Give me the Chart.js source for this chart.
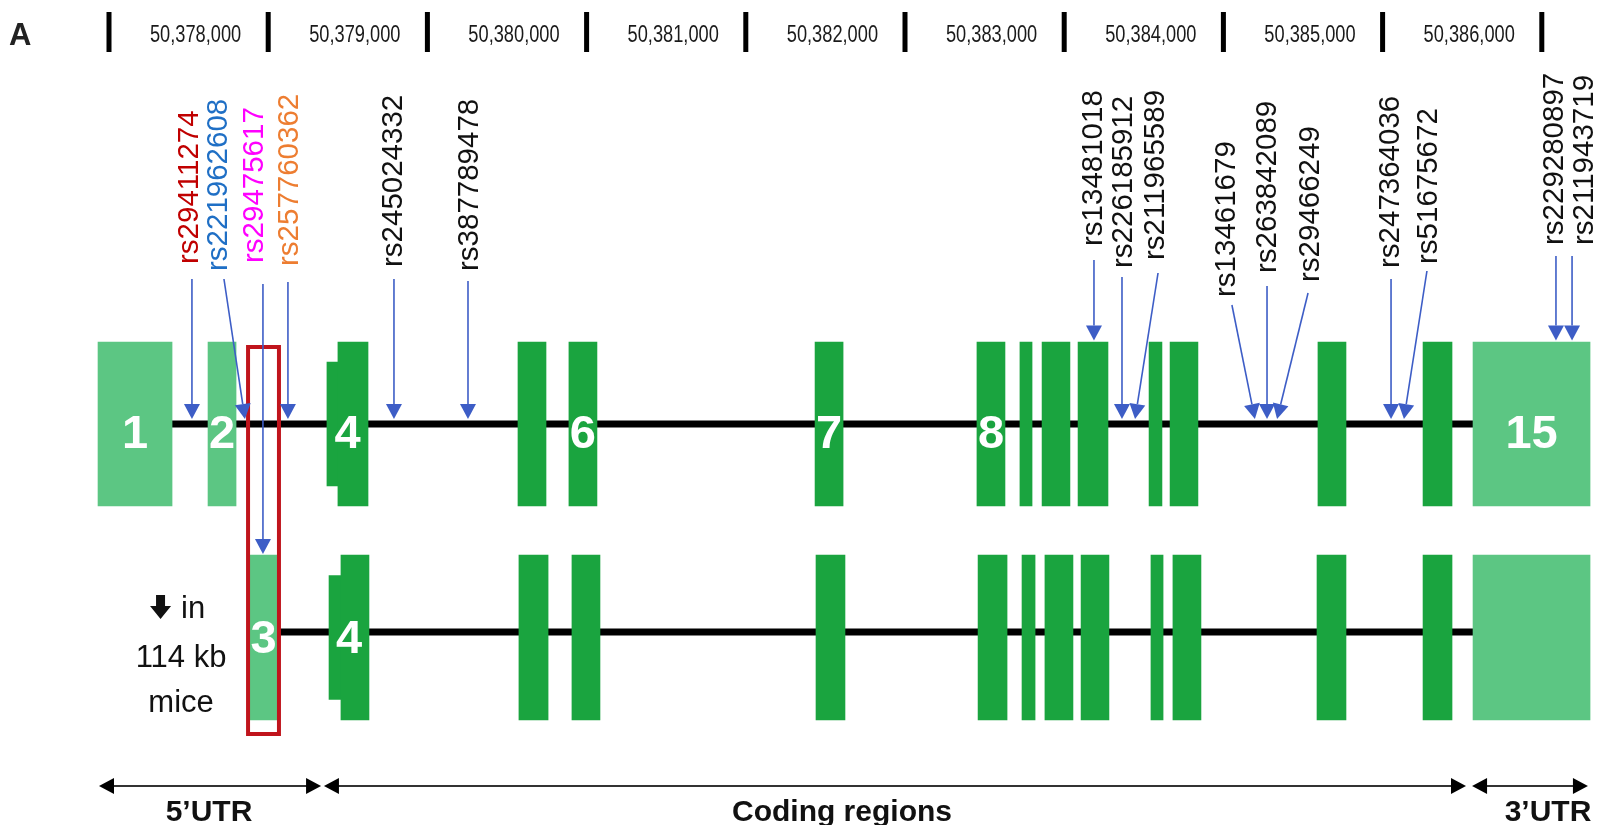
<!DOCTYPE html>
<html>
<head>
<meta charset="utf-8">
<script src="https://cdn.jsdelivr.net/npm/chart.js@4.4.1/dist/chart.umd.min.js"></script>
<style>
  html, body { margin: 0; padding: 0; background: #ffffff; }
  #wrap { width: 1601px; height: 825px; position: relative; }
</style>
</head>
<body>
<div id="wrap"><canvas id="c"></canvas></div>
<script>
// ======================= DATA =======================
// Genomic ruler: labelled 1-kb blocks, separated by tick bars
const axisTickValues = [50378000, 50379000, 50380000, 50381000, 50382000, 50383000, 50384000, 50385000, 50386000];
const axisTickLabels = ['50,378,000', '50,379,000', '50,380,000', '50,381,000', '50,382,000', '50,383,000', '50,384,000', '50,385,000', '50,386,000'];
const axisBarValues = [50377500, 50378500, 50379500, 50380500, 50381500, 50382500, 50383500, 50384500, 50385500, 50386500];

// Transcript 1 (upper row) exons [start, end]
const tx1Exons = [
  [50377431, 50377896], [50378122, 50378298], [50378938, 50379127], [50380069, 50380245],
  [50380389, 50380565], [50381935, 50382111], [50382952, 50383128], [50383222, 50383298],
  [50383361, 50383536], [50383587, 50383775], [50384033, 50384114], [50384165, 50384340],
  [50385094, 50385270], [50385754, 50385936], [50386068, 50386803]
];
const tx1IsUtr = [1, 1, 0, 0, 0, 0, 0, 0, 0, 0, 0, 0, 0, 0, 1];
const tx1Numbers = ['1', '2', '4', '', '6', '7', '8', '', '', '', '', '', '', '', '15'];
const tx1Exon4Ext = [50378869, 50378938];

// Transcript 2 (lower row, 114 kb mice) exons [start, end]
const tx2Exons = [
  [50378386, 50378555], [50378957, 50379133], [50380075, 50380258], [50380408, 50380584],
  [50381941, 50382123], [50382959, 50383141], [50383235, 50383317], [50383379, 50383555],
  [50383606, 50383781], [50384045, 50384121], [50384183, 50384359], [50385088, 50385270],
  [50385754, 50385936], [50386068, 50386803]
];
const tx2IsUtr = [1, 0, 0, 0, 0, 0, 0, 0, 0, 0, 0, 0, 0, 1];
const tx2Numbers = ['3', '4', '', '', '', '', '', '', '', '', '', '', '', ''];
const tx2Exon4Ext = [50378882, 50378957];

// SNPs
const snpIds = ['rs29411274', 'rs221962608', 'rs29475617', 'rs257760362', 'rs245024332', 'rs387789478',
  'rs13481018', 'rs226185912', 'rs211965589', 'rs13461679', 'rs263842089', 'rs29466249',
  'rs247364036', 'rs51675672', 'rs229280897', 'rs211943719'];
const snpPos = [50378021, 50378354, 50378467, 50378624, 50379290, 50379755,
  50383687, 50383863, 50383945, 50384698, 50384774, 50384837,
  50385553, 50385634, 50386589, 50386690];
const snpTarget = ['intron', 'intron', 'tx2exon', 'intron', 'intron', 'intron',
  'exon', 'intron', 'intron', 'intron', 'intron', 'intron',
  'intron', 'intron', 'exon', 'exon'];
const snpColors = ['#C00000', '#1F6FC5', '#FF00FF', '#ED7D31', '#111111', '#111111',
  '#111111', '#111111', '#111111', '#111111', '#111111', '#111111',
  '#111111', '#111111', '#111111', '#111111'];

// Gene regions
const regionNames = ['5\u2019UTR', 'Coding regions', '3\u2019UTR'];
const regionStart = [50377437, 50378850, 50386062];
const regionEnd = [50378832, 50386024, 50386790];

// ======================= LAYOUT (pixels, styling only) =======================
const LAYOUT = {
  exonH: 164, extH: 124, backboneW: 7,
  backboneDy: [0, -5.5],          // backbone offset from exon centre, per row
  numberDy: [24, 15.5],           // exon-number baseline offset from exon centre
  snpLabelDx: [-4, -28, -10, 0, -2, 0, -2, 0, 18, -30, -2, 31, -3, 23, -3, 10],
  snpLineDx: [0, -21, 0, 0, 0, 0, 0, 0, 23, -23, 0, 31, 0, 23, 0, 0],
  snpLineRise: [145, 145, 140, 142, 145, 143, 164, 147, 151, 119, 138, 131, 145, 153, 168, 168],
  snpLabelRise: [160, 153, 161, 158, 157, 153, 178, 156, 164, 127, 151, 142, 156, 160, 179, 179],
  regionLabelDx: [-1, -53, 18]
};

const LIGHT = '#5CC683';
const DARK = '#1AA43F';
const ARROW = '#3D5DC6';
const FONT = "'Liberation Sans', Arial, Helvetica, sans-serif";

// ======================= BUILD DATASETS =======================
function bars(exons, isUtr, row, wantUtr) {
  const out = [];
  exons.forEach((e, i) => { if (!!isUtr[i] === wantUtr) out.push({ x: [e[0], e[1]], y: row }); });
  return out;
}

const datasets = [
  { label: 'UTR exons tx1', data: bars(tx1Exons, tx1IsUtr, 1, true), backgroundColor: LIGHT, barThickness: LAYOUT.exonH },
  { label: 'coding exons tx1', data: bars(tx1Exons, tx1IsUtr, 1, false), backgroundColor: DARK, barThickness: LAYOUT.exonH },
  { label: 'UTR exons tx2', data: bars(tx2Exons, tx2IsUtr, 2, true), backgroundColor: LIGHT, barThickness: LAYOUT.exonH + 1 },
  { label: 'coding exons tx2', data: bars(tx2Exons, tx2IsUtr, 2, false), backgroundColor: DARK, barThickness: LAYOUT.exonH + 1 },
  { label: 'exon 4 extension', data: [{ x: tx1Exon4Ext, y: 1 }, { x: tx2Exon4Ext, y: 2 }], backgroundColor: DARK, barThickness: LAYOUT.extH }
].map(d => Object.assign(d, { borderWidth: 0, grouped: false, borderSkipped: false }));

// ======================= DRAWING PLUGIN =======================
function arrowHead(ctx, x0, y0, x1, y1, len, half) {
  const dx = x1 - x0, dy = y1 - y0, L = Math.hypot(dx, dy);
  const ux = dx / L, uy = dy / L;
  const bx = x1 - ux * len, by = y1 - uy * len;
  ctx.beginPath();
  ctx.moveTo(x1, y1);
  ctx.lineTo(bx - uy * half, by + ux * half);
  ctx.lineTo(bx + uy * half, by - ux * half);
  ctx.closePath();
  ctx.fill();
  return [bx, by];
}

const geneMap = {
  id: 'geneMap',
  beforeDatasetsDraw(chart) {
    const { ctx, scales: { x, y } } = chart;
    ctx.save();
    ctx.strokeStyle = '#000';
    ctx.lineWidth = LAYOUT.backboneW;
    [[tx1Exons, 1, 0], [tx2Exons, 2, 1]].forEach(([ex, row, k]) => {
      const yy = y.getPixelForValue(row) + LAYOUT.backboneDy[k];
      ctx.beginPath();
      ctx.moveTo(x.getPixelForValue(ex[0][1]) - 2, yy);
      ctx.lineTo(x.getPixelForValue(ex[ex.length - 1][0]) + 2, yy);
      ctx.stroke();
    });
    ctx.restore();
  },
  afterDatasetsDraw(chart) {
    const { ctx, scales: { x, y }, chartArea } = chart;
    const y1 = y.getPixelForValue(1), y2 = y.getPixelForValue(2);
    ctx.save();

    // ---- panel letter
    ctx.fillStyle = '#222';
    ctx.font = 'bold 31px ' + FONT;
    ctx.textAlign = 'left';
    ctx.textBaseline = 'alphabetic';
    ctx.fillText('A', 9, 45);

    // ---- genomic ruler
    ctx.fillStyle = '#000';
    axisBarValues.forEach(v => {
      const px = x.getPixelForValue(v);
      ctx.fillRect(px - 2.5, 12, 5, 40);
    });
    ctx.fillStyle = '#1a1a1a';
    ctx.font = '24px ' + FONT;
    ctx.textAlign = 'center';
    axisTickValues.forEach((v, i) => {
      const px = x.getPixelForValue(v) + 7;
      ctx.save();
      ctx.translate(px, 42);
      ctx.scale(0.76, 1);
      ctx.fillText(axisTickLabels[i], 0, 0);
      ctx.restore();
    });

    // ---- exon numbers
    ctx.fillStyle = '#ffffff';
    ctx.font = 'bold 47px ' + FONT;
    ctx.textAlign = 'center';
    [[tx1Exons, tx1Numbers, y1, 0, tx1Exon4Ext], [tx2Exons, tx2Numbers, y2, 1, tx2Exon4Ext]].forEach(([ex, nums, yy, k, ext]) => {
      ex.forEach((e, i) => {
        if (!nums[i]) return;
        let s = e[0];
        if (nums[i] === '4') s = ext[0];
        const cx = (x.getPixelForValue(s) + x.getPixelForValue(e[1])) / 2;
        ctx.fillText(nums[i], cx, yy + LAYOUT.numberDy[k]);
      });
    });

    // ---- red box around exon 3
    const e3 = tx2Exons[0];
    const bx0 = x.getPixelForValue(e3[0]) - 2, bx1 = x.getPixelForValue(e3[1]) + 2;
    const by0 = y1 - LAYOUT.exonH / 2 + 5, by1 = y2 + (LAYOUT.exonH + 1) / 2 + 14;
    ctx.strokeStyle = '#C0141C';
    ctx.lineWidth = 4;
    ctx.strokeRect(bx0, by0, bx1 - bx0, by1 - by0);

    // ---- "in 114 kb mice"
    const tcx = x.getPixelForValue(tx1Exons[0][1]) + 8;
    const bb2 = y2 + LAYOUT.backboneDy[1];
    ctx.fillStyle = '#111';
    ctx.font = '31px ' + FONT;
    ctx.textAlign = 'center';
    ctx.fillText('114 kb', tcx + 1, bb2 + 35);
    ctx.fillText('mice', tcx + 1, bb2 + 80);
    ctx.textAlign = 'left';
    ctx.fillText('in', tcx + 1, bb2 - 14);
    // thick down arrow glyph
    const ax = tcx - 30, ay = bb2 - 37;
    ctx.beginPath();
    ctx.moveTo(ax + 6, ay); ctx.lineTo(ax + 15, ay); ctx.lineTo(ax + 15, ay + 11);
    ctx.lineTo(ax + 21, ay + 11); ctx.lineTo(ax + 10.5, ay + 24); ctx.lineTo(ax, ay + 11);
    ctx.lineTo(ax + 6, ay + 11); ctx.closePath();
    ctx.fill();

    // ---- SNP leaders and labels
    snpIds.forEach((id, i) => {
      const tx = x.getPixelForValue(snpPos[i]);
      let ty;
      if (snpTarget[i] === 'intron') ty = y1 - LAYOUT.backboneW / 2 - 1.5;
      else if (snpTarget[i] === 'exon') ty = y1 - LAYOUT.exonH / 2 - 1.5;
      else ty = y2 - (LAYOUT.exonH + 1) / 2 - 1;
      const lx = tx + LAYOUT.snpLineDx[i];
      const ly = y1 - LAYOUT.snpLineRise[i];
      ctx.fillStyle = ARROW;
      ctx.strokeStyle = ARROW;
      ctx.lineWidth = 1.6;
      const base = arrowHead(ctx, lx, ly, tx, ty, 15, 8);
      ctx.beginPath();
      ctx.moveTo(lx, ly);
      ctx.lineTo(base[0], base[1]);
      ctx.stroke();

      const cx = tx + LAYOUT.snpLabelDx[i];
      const by = y1 - LAYOUT.snpLabelRise[i];
      ctx.save();
      ctx.translate(cx, by);
      ctx.rotate(-Math.PI / 2);
      ctx.fillStyle = snpColors[i];
      ctx.font = '29.5px ' + FONT;
      ctx.textAlign = 'left';
      ctx.textBaseline = 'alphabetic';
      ctx.fillText(id, 0, 10.5);
      ctx.restore();
    });

    // ---- region arrows
    const ry = chartArea.bottom - 39;
    ctx.strokeStyle = '#333';
    ctx.fillStyle = '#000';
    ctx.lineWidth = 2;
    regionNames.forEach((nm, i) => {
      const a = x.getPixelForValue(regionStart[i]);
      const b = x.getPixelForValue(regionEnd[i]);
      ctx.beginPath();
      ctx.moveTo(a + 10, ry); ctx.lineTo(b - 10, ry);
      ctx.stroke();
      arrowHead(ctx, b - 20, ry, b, ry, 15, 8);
      arrowHead(ctx, a + 20, ry, a, ry, 15, 8);
      ctx.font = 'bold 30px ' + FONT;
      ctx.textAlign = 'center';
      ctx.fillStyle = '#111';
      ctx.fillText(nm, (a + b) / 2 + LAYOUT.regionLabelDx[i], ry + 35);
      ctx.fillStyle = '#000';
    });

    ctx.restore();
  }
};

// ======================= CHART =======================
const PX_PER_BP = 0.1592, FIRST_BAR_PX = 109;
const X_MIN = axisBarValues[0] - FIRST_BAR_PX / PX_PER_BP;
const X_MAX = X_MIN + 1601 / PX_PER_BP;
const ROW1_PX = 424, ROW_STEP_PX = 213.5;
const Y_MIN = 1 - ROW1_PX / ROW_STEP_PX;
const Y_MAX = Y_MIN + 825 / ROW_STEP_PX;

new Chart(document.getElementById('c'), {
  type: 'bar',
  data: { datasets },
  options: {
    indexAxis: 'y',
    responsive: true,
    maintainAspectRatio: false,
    animation: false,
    layout: { padding: 0 },
    plugins: { legend: { display: false }, tooltip: { enabled: false } },
    scales: {
      x: { type: 'linear', min: X_MIN, max: X_MAX, display: false, bounds: 'data', offset: false },
      y: { type: 'linear', min: Y_MIN, max: Y_MAX, reverse: true, display: false, bounds: 'data', offset: false }
    }
  },
  plugins: [geneMap]
});
</script>
</body>
</html>
